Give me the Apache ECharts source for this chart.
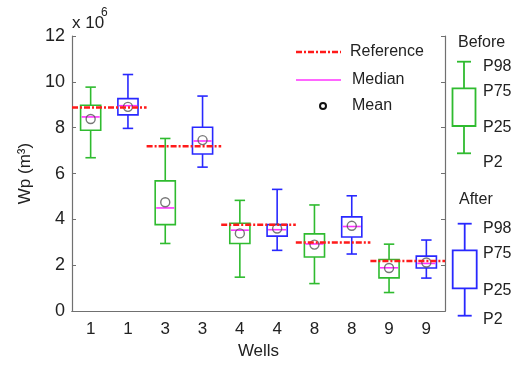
<!DOCTYPE html>
<html>
<head>
<meta charset="utf-8">
<script src="https://cdn.jsdelivr.net/npm/echarts@6/dist/echarts.min.js"></script>
<style>
  html, body { margin: 0; padding: 0; background: #fff; }
  #chart { width: 522px; height: 365px; }
</style>
</head>
<body>
<div id="chart"></div>
<script>
// wells in plot order, before/after alternating
const wells = ['1', '1', '3', '3', '4', '4', '8', '8', '9', '9']
const phase = ['before', 'after', 'before', 'after', 'before', 'after', 'before', 'after', 'before', 'after']

// percentiles, x 10^6 m3
const p2 = [6.69, 7.97, 2.95, 6.28, 1.48, 2.65, 1.20, 2.49, 0.81, 1.44]
const p25 = [7.89, 8.56, 3.77, 6.85, 2.95, 3.27, 2.36, 3.23, 1.45, 1.88]
const median = [8.47, 8.96, 4.50, 7.42, 3.53, 3.55, 2.93, 3.69, 1.89, 2.08]
const p75 = [8.98, 9.27, 5.68, 8.02, 3.83, 3.77, 3.37, 4.11, 2.25, 2.40]
const p98 = [9.77, 10.32, 7.53, 9.38, 4.83, 5.31, 4.63, 5.03, 2.92, 3.10]
const mean = [8.38, 8.91, 4.75, 7.46, 3.39, 3.60, 2.90, 3.72, 1.88, 2.12]

// one reference value per well (spans both boxes)
const reference = [8.88, 7.19, 3.77, 2.99, 2.18]

const yTicks = [0, 2, 4, 6, 8, 10, 12]

const colors = { before: '#2fbb2f', after: '#2828ff' }
const font = 'Liberation Sans, Arial, Helvetica, sans-serif'
const textColor = '#222'
const axisColor = '#707070'
const refDash = [6, 2, 2, 2]

const chart = echarts.init(document.getElementById('chart'))

const boxData = wells.map((w, i) => [i, p2[i], p25[i], median[i], p75[i], p98[i]])
const meanData = wells.map((w, i) => [i, mean[i]])
const refData = reference.map((v, k) => [k * 2, v])

const renderBox = (params, api) => {
  const i = api.value(0)
  const bw = api.size([1, 0])[0]
  const x = api.coord([i, 0])[0]
  const hw = bw * 0.27
  const cw = bw * 0.14
  const y = [1, 2, 3, 4, 5].map(d => api.coord([i, api.value(d)])[1])
  const stroke = colors[phase[i]]
  const ls = { stroke, lineWidth: 1.6, fill: null }
  return {
    type: 'group',
    children: [
      { type: 'line', shape: { x1: x, y1: y[0], x2: x, y2: y[1] }, style: ls },
      { type: 'line', shape: { x1: x, y1: y[3], x2: x, y2: y[4] }, style: ls },
      { type: 'line', shape: { x1: x - cw, y1: y[0], x2: x + cw, y2: y[0] }, style: ls },
      { type: 'line', shape: { x1: x - cw, y1: y[4], x2: x + cw, y2: y[4] }, style: ls },
      { type: 'rect', shape: { x: x - hw, y: y[3], width: hw * 2, height: y[1] - y[3] }, style: ls },
      { type: 'line', shape: { x1: x - hw + 1, y1: y[2], x2: x + hw - 1, y2: y[2] },
        style: { stroke: '#ff33ff', lineWidth: 1.6 } }
    ]
  }
}

const renderRef = (params, api) => {
  const i = api.value(0)
  const bw = api.size([1, 0])[0]
  const x0 = api.coord([i, 0])[0] - bw / 2
  const x1 = api.coord([i + 1, 0])[0] + bw / 2
  const y = api.coord([i, api.value(1)])[1]
  return {
    type: 'line',
    shape: { x1: x0, y1: y, x2: x1, y2: y },
    style: { stroke: '#ff1a1a', lineWidth: 2.5, lineDash: refDash }
  }
}

const txt = (text, x, y, size, extra) => ({
  type: 'text', x, y,
  style: Object.assign({ text, fill: textColor, font: size + 'px ' + font, verticalAlign: 'middle' }, extra || {})
})
const ln = (x1, y1, x2, y2, stroke, extra) => ({
  type: 'line', shape: { x1, y1, x2, y2 },
  style: Object.assign({ stroke, lineWidth: 1.8 }, extra || {})
})

// little boxplot keys on the right
const keyGlyph = (cx, top, q75, q25, bottom, hw, stroke) => [
  ln(cx, top, cx, q75, stroke),
  ln(cx, q25, cx, bottom, stroke),
  ln(cx - 7, top, cx + 7, top, stroke),
  ln(cx - 7, bottom, cx + 7, bottom, stroke),
  { type: 'rect', shape: { x: cx - hw, y: q75, width: hw * 2, height: q25 - q75 },
    style: { stroke, lineWidth: 1.8, fill: null } }
]

const option = {
  animation: false,
  backgroundColor: '#fff',
  grid: { left: 72, right: 77, top: 36, bottom: 48 },
  xAxis: [
    {
      type: 'category',
      data: wells.map((w, i) => w + '_' + i),
      boundaryGap: true,
      name: 'Wells',
      nameLocation: 'middle',
      nameGap: 30,
      nameTextStyle: { color: textColor, fontSize: 17, fontFamily: font },
      axisLine: { lineStyle: { color: axisColor, width: 1.2 } },
      axisTick: { inside: true, alignWithLabel: true, length: 4, lineStyle: { color: axisColor } },
      axisLabel: {
        color: textColor, fontSize: 17, fontFamily: font, margin: 10,
        formatter: v => v.split('_')[0]
      },
      splitLine: { show: false }
    },
    {
      type: 'category',
      position: 'top',
      data: wells.map((w, i) => w + '_' + i),
      boundaryGap: true,
      axisLine: { lineStyle: { color: axisColor, width: 1.2 } },
      axisTick: { inside: true, alignWithLabel: true, length: 4, lineStyle: { color: axisColor } },
      axisLabel: { show: false }
    }
  ],
  yAxis: [
    {
      type: 'value',
      min: yTicks[0],
      max: yTicks[yTicks.length - 1],
      interval: 2,
      name: 'Wp (m³)',
      nameLocation: 'middle',
      nameGap: 36,
      nameRotate: 90,
      nameTextStyle: { color: textColor, fontSize: 17, fontFamily: font },
      axisLine: { show: true, lineStyle: { color: axisColor, width: 1.2 } },
      axisTick: { show: true, inside: true, length: 4, lineStyle: { color: axisColor } },
      axisLabel: { color: textColor, fontSize: 18, fontFamily: font, margin: 7 },
      splitLine: { show: false }
    },
    {
      type: 'value',
      position: 'right',
      min: yTicks[0],
      max: yTicks[yTicks.length - 1],
      interval: 2,
      axisLine: { show: true, lineStyle: { color: axisColor, width: 1.2 } },
      axisTick: { show: true, inside: true, length: 4, lineStyle: { color: axisColor } },
      axisLabel: { show: false },
      splitLine: { show: false }
    }
  ],
  series: [
    {
      name: 'Boxes',
      type: 'custom',
      renderItem: renderBox,
      data: boxData,
      encode: { x: 0, y: [1, 2, 3, 4, 5] },
      z: 2
    },
    {
      name: 'Mean',
      type: 'scatter',
      data: meanData,
      symbol: 'circle',
      symbolSize: 9,
      itemStyle: { color: 'rgba(0,0,0,0)', borderColor: '#555', borderWidth: 1.4 },
      z: 3
    },
    {
      name: 'Reference',
      type: 'custom',
      renderItem: renderRef,
      data: refData,
      encode: { x: 0, y: 1 },
      z: 4
    }
  ],
  graphic: [
    txt('x 10', 72, 23, 17),
    txt('6', 101, 13, 12),
    // legend inside plot
    ln(296, 52, 341, 52, '#ff1a1a', { lineWidth: 2.5, lineDash: refDash }),
    txt('Reference', 350, 52, 16),
    ln(296, 80, 341, 80, '#ff33ff', { lineWidth: 1.6 }),
    txt('Median', 352, 80, 16),
    { type: 'circle', shape: { cx: 323, cy: 106, r: 3 }, style: { stroke: '#111', lineWidth: 2, fill: null } },
    txt('Mean', 352, 106, 16),
    // before key
    txt('Before', 458, 43, 16),
    ...keyGlyph(464, 61.7, 88.3, 126, 153.3, 11.5, colors.before),
    txt('P98', 483, 66.7, 16),
    txt('P75', 483, 91.7, 16),
    txt('P25', 483, 128, 16),
    txt('P2', 483, 162.7, 16),
    // after key
    txt('After', 459, 200, 16),
    ...keyGlyph(464.7, 223.7, 250.3, 288.3, 315.7, 12, colors.after),
    txt('P98', 483, 228.3, 16),
    txt('P75', 483, 253.3, 16),
    txt('P25', 483, 291, 16),
    txt('P2', 483, 319.3, 16)
  ]
}

chart.setOption(option)
</script>
</body>
</html>
